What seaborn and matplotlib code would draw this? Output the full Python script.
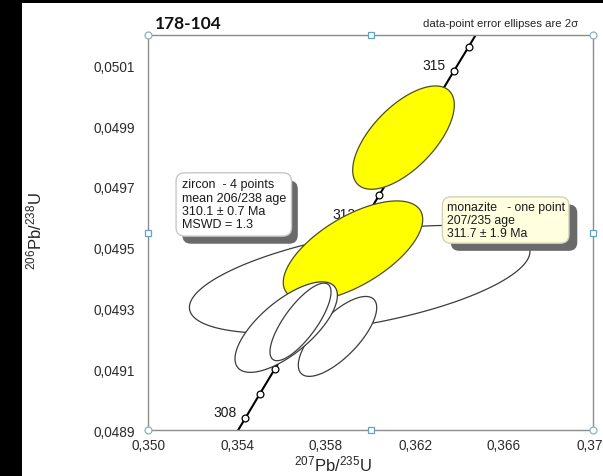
import numpy as np
import matplotlib
matplotlib.use('Agg')
import matplotlib.pyplot as plt
import matplotlib.patheffects as pe
from matplotlib.patches import Rectangle
from matplotlib.ticker import FixedLocator, FuncFormatter
import seaborn as sns

# concordia curve, ticked every 0.5 Ma (ages in Ma, ratios)
conc_age = [307.5, 308.0, 308.5, 309.0, 309.5, 310.0, 310.5, 311.0, 311.5,
            312.0, 312.5, 313.0, 313.5, 314.0, 314.5, 315.0, 315.5, 316.0]
conc_x = [0.353700, 0.354367, 0.355034, 0.355701, 0.356369, 0.357037, 0.357705, 0.358374, 0.359043,
          0.359713, 0.360382, 0.361052, 0.361723, 0.362393, 0.363065, 0.363736, 0.364408, 0.365080]
conc_y = [0.048857, 0.048938, 0.049020, 0.049101, 0.049183, 0.049264, 0.049345, 0.049427, 0.049508,
          0.049590, 0.049672, 0.049753, 0.049835, 0.049916, 0.049998, 0.050080, 0.050161, 0.050243]
label_ages = [308, 309, 310, 311, 312, 313, 314, 315]

# 2-sigma error ellipses, in drawing order: centre, half-width, half-height, rho
spot_x = [0.359515, 0.359213, 0.361483, 0.358517, 0.356211, 0.356854]
spot_hx = [0.007654, 0.003133, 0.002283, 0.001762, 0.002301, 0.001371]
spot_y = [0.0493958, 0.0494895, 0.0498623, 0.0492080, 0.0492386, 0.0492557]
spot_hy = [0.0001775, 0.0001644, 0.0001700, 0.0001315, 0.0001489, 0.0001276]
spot_rho = [0.52, 0.63, 0.63, 0.72, 0.70, 0.77]
spot_fill = ['white', 'yellow', 'yellow', 'white', 'white', 'white']

x_ticks = [0.350, 0.354, 0.358, 0.362, 0.366, 0.370]
x_minor = [0.352, 0.356, 0.360, 0.364, 0.368]
y_ticks = [0.0489, 0.0491, 0.0493, 0.0495, 0.0497, 0.0499, 0.0501]
y_minor = [0.0490, 0.0492, 0.0494, 0.0496, 0.0498, 0.0500]

zircon_text = 'zircon  - 4 points\nmean 206/238 age\n310.1 \u00b1 0.7 Ma\nMSWD = 1.3'
monazite_text = 'monazite   - one point\n207/235 age\n311.7 \u00b1 1.9 Ma'

sns.set_theme(style='white')
plt.rcParams['font.family'] = ['Liberation Sans', 'DejaVu Sans']
plt.rcParams['mathtext.fontset'] = 'custom'
plt.rcParams['mathtext.rm'] = 'Liberation Sans'
plt.rcParams['mathtext.it'] = 'Liberation Sans:italic'
plt.rcParams['mathtext.bf'] = 'Liberation Sans:bold'

fig = plt.figure(figsize=(6.03, 4.77), dpi=100, facecolor='white')
# black strips along the left and top edge of the screenshot
fig.patches.append(Rectangle((0, 0), 22 / 603, 1, transform=fig.transFigure,
                             fc='black', ec='none', zorder=-5))
fig.patches.append(Rectangle((0, 1 - 4 / 477), 1, 4 / 477, transform=fig.transFigure,
                             fc='black', ec='none', zorder=-5))
ax = fig.add_axes([148 / 603, 46 / 477, 445 / 603, 395 / 477])
ax.set_facecolor('white')

# concordia
sns.lineplot(x=conc_x, y=conc_y, ax=ax, sort=False, estimator=None,
             color='black', linewidth=1.5, zorder=2)
sns.scatterplot(x=conc_x, y=conc_y, ax=ax, s=24, color='white',
                edgecolor='black', linewidth=0.9, zorder=2.5)
for age in label_ages:
    i = conc_age.index(age)
    ax.annotate(f'{age}', (conc_x[i], conc_y[i]), xytext=(-14.4, 4.3),
                textcoords='offset points', ha='center', va='center',
                fontsize=10, color='#1a1a1a', zorder=2.5)

# error ellipses
theta = np.linspace(0, 2 * np.pi, 240)
for k in range(len(spot_x)):
    r = spot_rho[k]
    ex = spot_x[k] + spot_hx[k] * np.cos(theta)
    ey = spot_y[k] + spot_hy[k] * (r * np.cos(theta) + np.sqrt(1 - r ** 2) * np.sin(theta))
    ec = '#4d4d26' if spot_fill[k] == 'yellow' else '#3c3c3c'
    ax.fill(ex, ey, fc=spot_fill[k], ec=ec, lw=0.9, zorder=3 + k)

ax.set_xlim(0.350, 0.370)
ax.set_ylim(0.0489, 0.0502)
ax.xaxis.set_major_locator(FixedLocator(x_ticks))
ax.xaxis.set_minor_locator(FixedLocator(x_minor))
ax.yaxis.set_major_locator(FixedLocator(y_ticks))
ax.yaxis.set_minor_locator(FixedLocator(y_minor))
ax.xaxis.set_major_formatter(FuncFormatter(lambda v, p: f'{v:.3f}'.replace('.', ',')))
ax.yaxis.set_major_formatter(FuncFormatter(lambda v, p: f'{v:.4f}'.replace('.', ',')))
ax.tick_params(axis='both', which='both', direction='in', length=3, width=0.8,
               color='#8c8c8c', top=False, right=False, labelsize=9.8, labelcolor='#2b2b2b')
ax.tick_params(axis='y', which='both', pad=9.4)
ax.tick_params(axis='x', which='both', pad=5.5)
for s in ax.spines.values():
    s.set_color('#8c8c8c')
    s.set_linewidth(1.0)
    s.set_zorder(15)

ax.set_xlabel(r'$\mathregular{^{207}Pb/^{235}U}$', fontsize=12, color='#262626')
ax.xaxis.set_label_coords(0.416, -0.103)
ax.xaxis.label.set_va('baseline')
ax.set_ylabel(r'$\mathregular{^{206}Pb/^{238}U}$', fontsize=12, color='#262626')
ax.yaxis.set_label_coords(-0.239, 0.506)
ax.yaxis.label.set_rotation_mode('anchor')
ax.yaxis.label.set_va('baseline')
ax.yaxis.label.set_ha('center')

ax.text(0.016, 1.017, '178-104', transform=ax.transAxes, family=['Lato', 'DejaVu Sans'],
        fontweight='bold', fontsize=12.5, ha='left', va='baseline', color='#111111')
ax.text(0.967, 1.024, 'data-point error ellipses are 2\u03c3', transform=ax.transAxes,
        fontsize=8.2, ha='right', va='baseline', color='#262626')

# annotation boxes with drop shadow
zr = ax.text(0.0757, 0.571, zircon_text, transform=ax.transAxes, ha='left', va='center',
             fontsize=9, linespacing=1.15, color='#1a1a1a', zorder=20,
             bbox=dict(boxstyle='round,pad=0.45,rounding_size=0.7', fc='white', ec='#c8c8c8', lw=1))
zr.get_bbox_patch().set_path_effects([pe.SimplePatchShadow(offset=(4.5, -5.5), shadow_rgbFace='#6a6a6a', alpha=1),
                                      pe.Normal()])
mz = ax.text(0.6712, 0.5316, monazite_text, transform=ax.transAxes, ha='left', va='center',
             fontsize=8.8, linespacing=1.1, color='#1a1a1a', zorder=20,
             bbox=dict(boxstyle='round,pad=0.35,rounding_size=0.7', fc='#ffffe0', ec='#d2d2b4', lw=1))
mz.get_bbox_patch().set_path_effects([pe.SimplePatchShadow(offset=(6, -5.5), shadow_rgbFace='#6a6a6a', alpha=1),
                                      pe.Normal()])

# frame selection handles
ax.plot([0, 1, 0, 1], [0, 0, 1, 1], 'o', transform=ax.transAxes, ms=5, mfc='white',
        mec='#8fb0bf', mew=0.9, clip_on=False, zorder=30)
ax.plot([0.5, 0, 1, 0.5], [1, 0.5, 0.5, 0], 's', transform=ax.transAxes, ms=4, mfc='white',
        mec='#5fa3c8', mew=0.9, clip_on=False, zorder=30)

fig.savefig('out.png', dpi=100, facecolor='white')
